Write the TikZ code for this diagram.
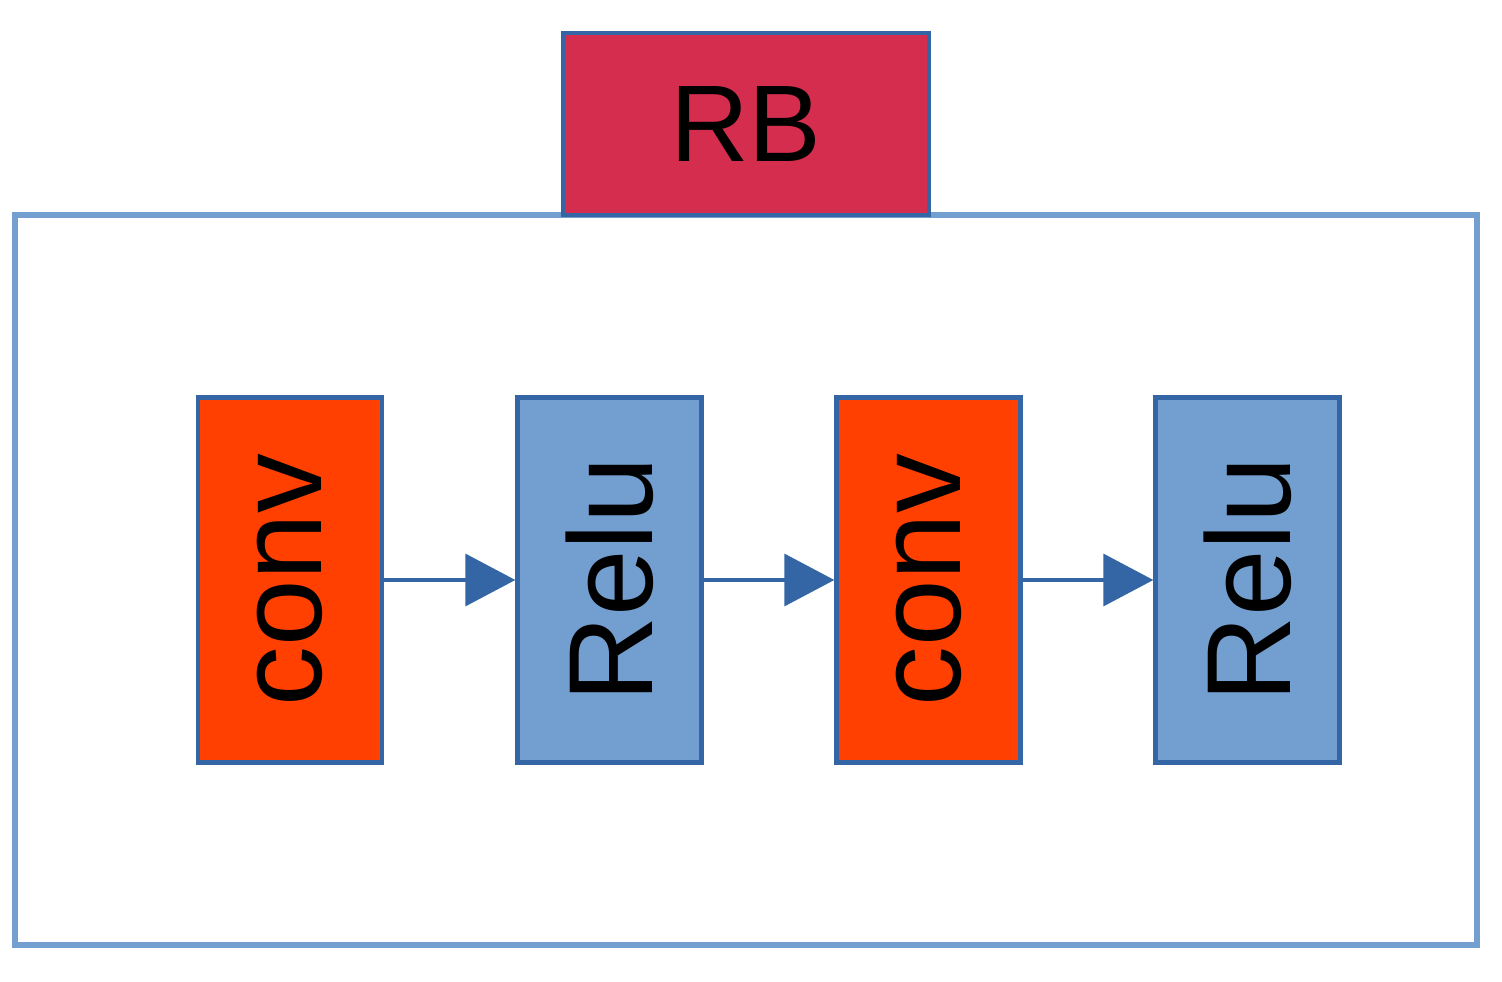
\documentclass[tikz,border=0pt]{standalone}
\usepackage{fontspec}
\setmainfont{Liberation Sans}
\usetikzlibrary{arrows.meta}
\definecolor{bord}{HTML}{3465A4}
\definecolor{rbred}{HTML}{D42D4E}
\definecolor{convc}{HTML}{FF4000}
\definecolor{reluc}{HTML}{729FCF}
\begin{document}
\begin{tikzpicture}[x=0.01cm,y=-0.01cm,
 blk/.style={draw=bord,line width=1.2pt,minimum width=1.84cm,minimum height=3.65cm,inner sep=0pt},
 lbl/.style={rotate=90,font=\fontsize{34}{40}\selectfont},
 arr/.style={draw=bord,line width=1pt,-{Triangle[length=0.5cm,width=0.52cm]}}]
\useasboundingbox (0,0) rectangle (1502,982);
\draw[draw=reluc,line width=1.5pt] (15,215) rectangle (1477,945);
\node[draw=bord,line width=1.2pt,fill=rbred,minimum width=3.66cm,minimum height=1.82cm,inner sep=0pt,font=\fontsize{31}{36}\selectfont] (rb) at (746,124) {RB};
\node[blk,fill=convc] (c1) at (290,580) {};
\node[blk,fill=reluc] (r1) at (609.5,580) {};
\node[blk,fill=convc] (c2) at (928.5,580) {};
\node[blk,fill=reluc] (r2) at (1247.5,580) {};
\node[lbl] at (c1) {conv};
\node[lbl] at (r1) {Relu};
\node[lbl] at (c2) {conv};
\node[lbl] at (r2) {Relu};
\draw[arr] (c1) -- (r1);
\draw[arr] (r1) -- (c2);
\draw[arr] (c2) -- (r2);
\end{tikzpicture}
\end{document}
